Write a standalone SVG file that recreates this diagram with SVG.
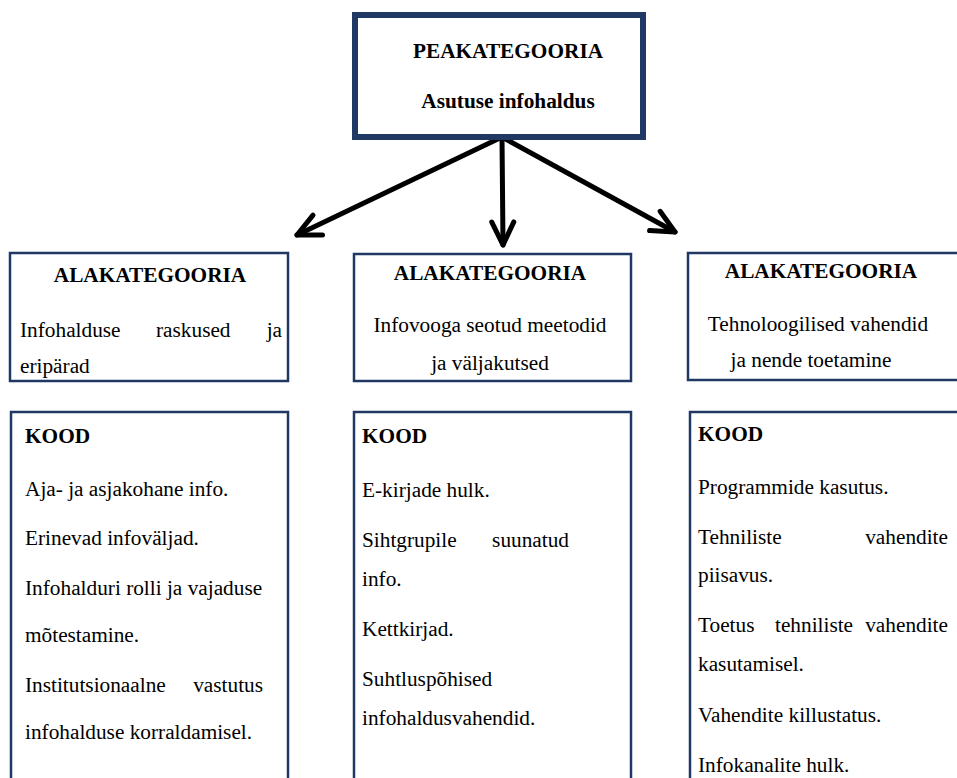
<svg xmlns="http://www.w3.org/2000/svg" width="957" height="778" viewBox="0 0 957 778">
<style>
.box{fill:#fff;stroke:#1f3864;stroke-width:2.5}
.main{fill:#fff;stroke:#1f3864;stroke-width:6}
.t{font-family:"Liberation Serif","Times New Roman",serif;font-size:21.3px;fill:#000}
.b{font-weight:bold}
.c{text-anchor:middle}
.e{text-anchor:end}
.arr{fill:none;stroke:#000;stroke-width:5;stroke-linecap:round;stroke-linejoin:round}
</style>
<defs>
<marker id="head" markerUnits="userSpaceOnUse" viewBox="-30 -20 40 40" markerWidth="40" markerHeight="40" refX="0" refY="0" orient="auto">
<path d="M-23,-11 L0,0 L-23,11" fill="none" stroke="#000" stroke-width="5" stroke-linecap="round" stroke-linejoin="round"/>
</marker>
</defs>
<rect width="957" height="778" fill="#fff"/>
<g id="connectors">
<path class="arr" d="M502,137 L297,235" marker-end="url(#head)"/>
<path class="arr" d="M502,137 L503,245" marker-end="url(#head)"/>
<path class="arr" d="M502,137 L675,232" marker-end="url(#head)"/>
</g>
<g id="peakategooria">
<rect class="main" x="355" y="15" width="288" height="122"/>
<text class="t b c" x="508" y="58">PEAKATEGOORIA</text>
<text class="t b c" x="508" y="108">Asutuse infohaldus</text>
</g>
<g id="ala1">
<rect class="box" x="10" y="253" width="278" height="128"/>
<text class="t b c" x="150" y="282">ALAKATEGOORIA</text>
<text class="t" x="20" y="337">Infohalduse</text>
<text class="t" x="156" y="337">raskused</text>
<text class="t e" x="282" y="337">ja</text>
<text class="t" x="20" y="373">eripärad</text>
</g>
<g id="ala2">
<rect class="box" x="354" y="254" width="277" height="127"/>
<text class="t b c" x="490" y="280">ALAKATEGOORIA</text>
<text class="t c" x="490" y="332">Infovooga seotud meetodid</text>
<text class="t c" x="490" y="370">ja väljakutsed</text>
</g>
<g id="ala3">
<rect class="box" x="688" y="253" width="300" height="127"/>
<text class="t b c" x="821" y="278">ALAKATEGOORIA</text>
<text class="t c" x="818" y="331">Tehnoloogilised vahendid</text>
<text class="t c" x="811" y="367">ja nende toetamine</text>
</g>
<g id="kood1">
<rect class="box" x="11" y="412" width="277" height="400"/>
<text class="t b" x="25" y="443">KOOD</text>
<text class="t" x="25" y="496">Aja- ja asjakohane info.</text>
<text class="t" x="25" y="545">Erinevad infoväljad.</text>
<text class="t" x="25" y="595">Infohalduri rolli ja vajaduse</text>
<text class="t" x="25" y="642">mõtestamine.</text>
<text class="t" x="25" y="692">Institutsionaalne</text>
<text class="t e" x="263" y="692">vastutus</text>
<text class="t" x="25" y="739">infohalduse korraldamisel.</text>
</g>
<g id="kood2">
<rect class="box" x="354" y="412" width="277" height="400"/>
<text class="t b" x="362" y="443">KOOD</text>
<text class="t" x="362" y="497">E-kirjade hulk.</text>
<text class="t" x="362" y="547">Sihtgrupile</text>
<text class="t e" x="569" y="547">suunatud</text>
<text class="t" x="362" y="586">info.</text>
<text class="t" x="362" y="636">Kettkirjad.</text>
<text class="t" x="362" y="686">Suhtluspõhised</text>
<text class="t" x="362" y="725">infohaldusvahendid.</text>
</g>
<g id="kood3">
<rect class="box" x="690" y="412" width="300" height="400"/>
<text class="t b" x="698" y="441">KOOD</text>
<text class="t" x="698" y="494">Programmide kasutus.</text>
<text class="t" x="698" y="544">Tehniliste</text>
<text class="t e" x="948" y="544">vahendite</text>
<text class="t" x="698" y="582">piisavus.</text>
<text class="t" x="698" y="632">Toetus</text>
<text class="t" x="775" y="632">tehniliste</text>
<text class="t e" x="948" y="632">vahendite</text>
<text class="t" x="698" y="671">kasutamisel.</text>
<text class="t" x="698" y="722">Vahendite killustatus.</text>
<text class="t" x="698" y="772">Infokanalite hulk.</text>
</g>
</svg>
